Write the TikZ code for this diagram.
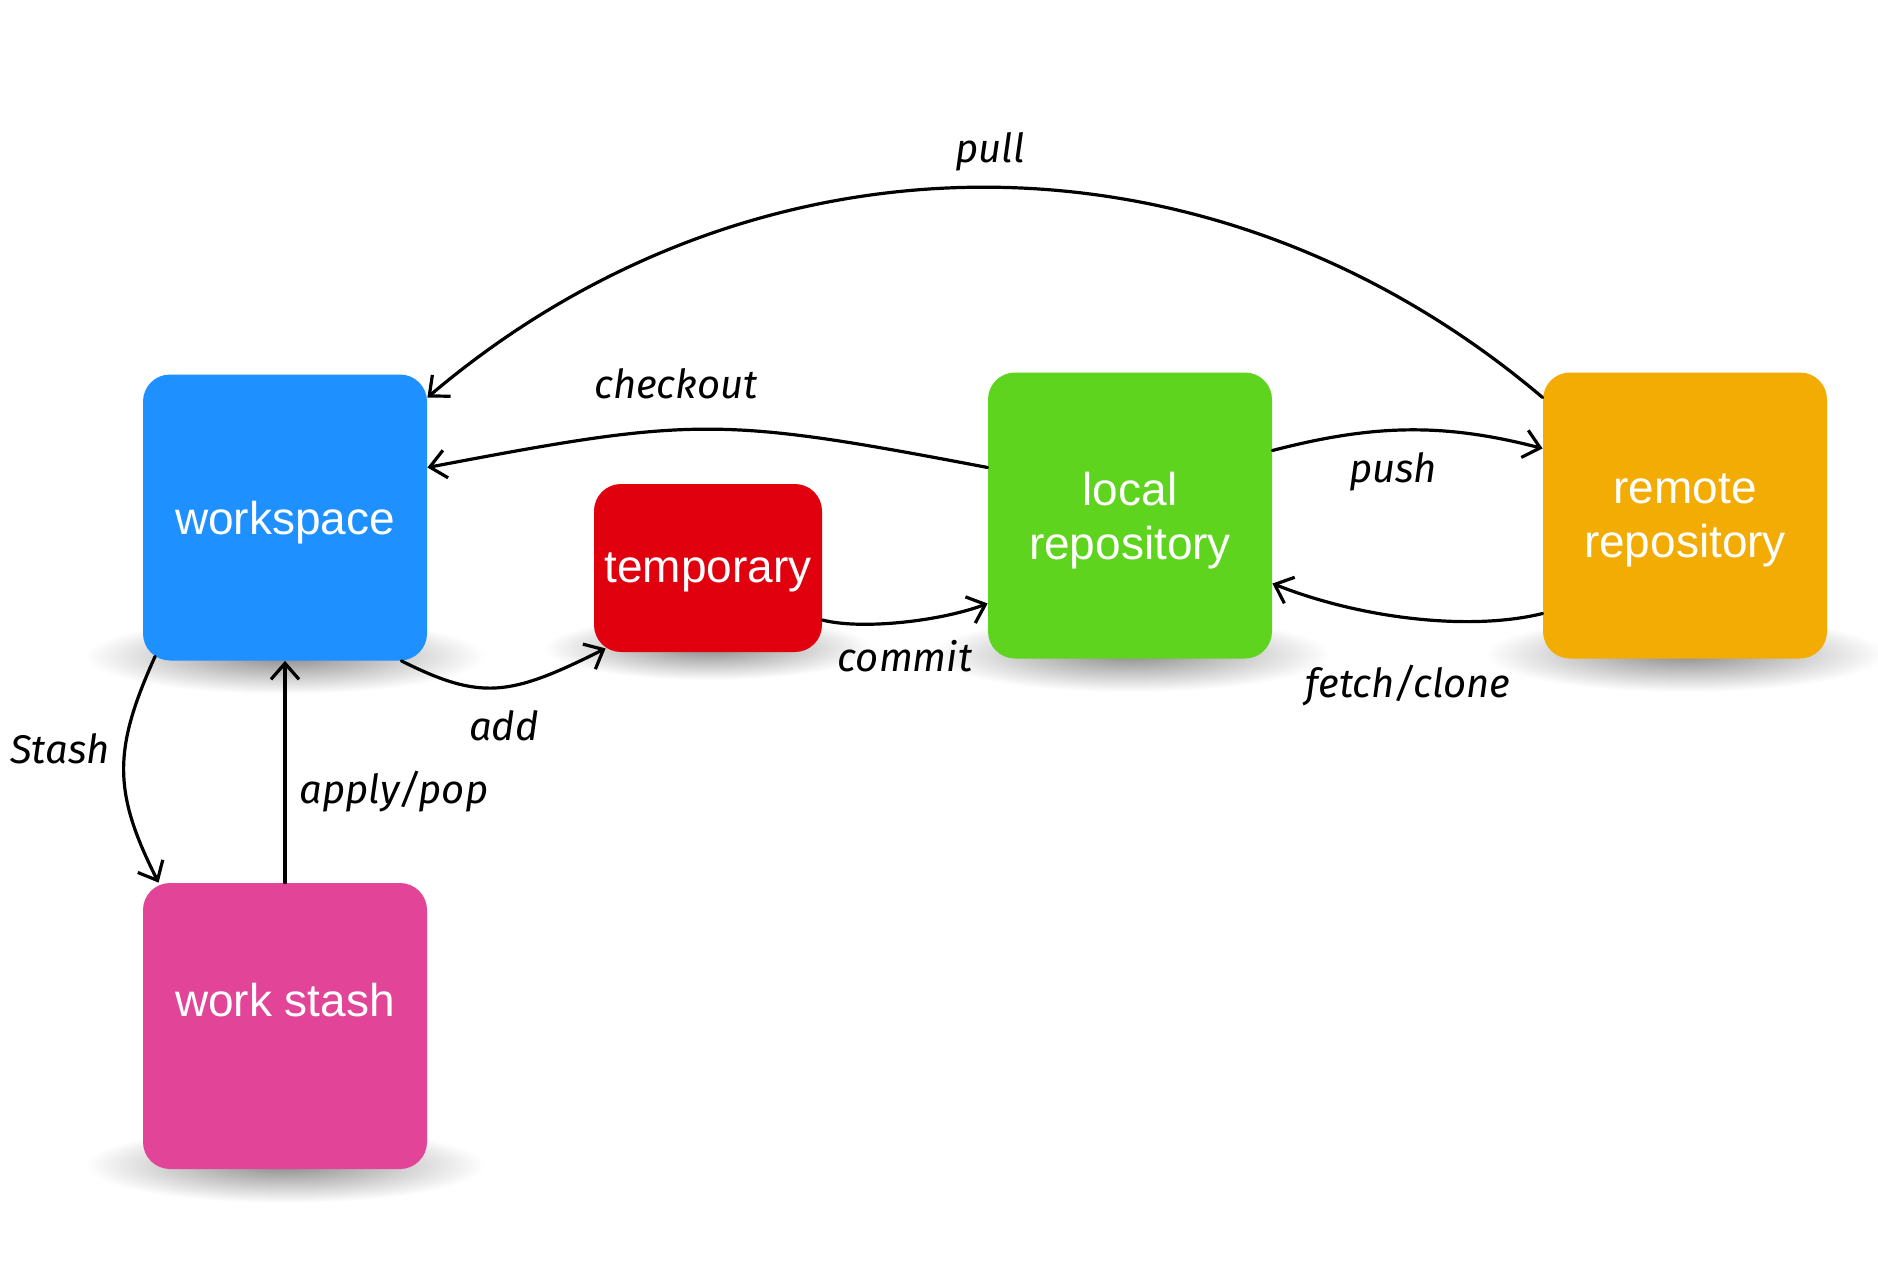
\documentclass[tikz,border=0pt]{standalone}
\usepackage{fontspec}
\setmainfont{Liberation Sans}
\newfontfamily\handfont{Fira Sans}
\usetikzlibrary{arrows.meta,calc}
\definecolor{wsblue}{RGB}{30,144,255}
\definecolor{tmpred}{RGB}{224,0,14}
\definecolor{locgreen}{RGB}{94,212,30}
\definecolor{remorange}{RGB}{242,172,4}
\definecolor{stashpink}{RGB}{226,68,152}
\begin{document}
\begin{tikzpicture}[x=0.5pt,y=-0.5pt,
  box/.style={rectangle, rounded corners=13.5pt, inner sep=0pt, text=white,
    font=\fontsize{23}{27}\selectfont, align=center, text depth=0pt},
  bigbox/.style={box, minimum width=142pt, minimum height=143pt},
  conn/.style={draw=black, line width=1.6pt, line cap=round, line join=round,
    -{Straight Barb[length=8pt,width=14pt,line width=1.6pt]}},
  lab/.style={inner sep=0pt, font=\handfont\itshape\fontsize{20}{24}\selectfont},
  shadowshade/.style={inner color=black!45, outer color=white}]
\useasboundingbox (0,0) rectangle (1878,1268);
\fill[white] (0,0) rectangle (1878,1268);

% shadows
\shade[shadowshade] (285,656) ellipse [x radius=100pt, y radius=19pt];
\shade[shadowshade] (708,648) ellipse [x radius=82pt, y radius=16pt];
\shade[shadowshade] (1130,654) ellipse [x radius=100pt, y radius=19pt];
\shade[shadowshade] (1685,654) ellipse [x radius=100pt, y radius=19pt];
\shade[shadowshade] (285,1165) ellipse [x radius=100pt, y radius=19pt];

% boxes
\node[bigbox, fill=wsblue] (ws) at (285,517.5) {workspace};
\node[box, fill=tmpred, minimum width=114pt, minimum height=84pt] (tmp) at (708,568) {temporary};
\node[bigbox, fill=locgreen] (loc) at (1130,515.5) {local\\repository};
\node[bigbox, fill=remorange] (rem) at (1685,515.5) {remote\\repository};
\node[bigbox, fill=stashpink] (stash) at (285,1026) {};
\node[inner sep=0pt, text=white, font=\fontsize{23}{27}\selectfont] (stashtext) at (285,1000) {work stash};

% connectors
\draw[conn] ($(rem.west)+(0,-118)$) .. controls +(-330,-280) and +(330,-280) .. ($(ws.east)+(0,-120)$);
\draw[conn] ($(loc.west)+(0,-48)$) .. controls +(-268,-51) and +(268,-51) .. ($(ws.east)+(0,-50)$);
\draw[conn] ($(loc.east)+(0,-65)$) .. controls +(100,-26) and +(-100,-26) .. ($(rem.west)+(0,-67)$);
\draw[conn] ($(rem.west)+(0,98)$) .. controls +(-73,18) and +(88,35) .. ($(loc.east)+(0,68)$);
\draw[conn] ($(tmp.east)+(0,52)$) .. controls +(38,10) and +(-48,18) .. ($(loc.west)+(0,88)$);
\draw[conn] ($(ws.south east)+(-26,0)$) .. controls +(80,40) and +(-96,48) .. ($(tmp.south west)+(12,-4)$);
\draw[conn] ($(ws.south west)+(12.5,-4.5)$) .. controls +(-42,93) and +(-46,-91) .. ($(stash.north west)+(16,0)$);
\draw[conn] (stash.north) -- (ws.south);

% labels
\node[lab] (lpull) at (990,152) {pull};
\node[lab] (lcheckout) at (676,384) {checkout};
\node[lab] (lpush) at (1393,472) {push};
\node[lab] (lfetch) at (1408,686) {fetch/clone};
\node[lab] (lcommit) at (905,656) {commit};
\node[lab] (ladd) at (504,726) {add};
\node[lab] (lstash) at (60,749) {Stash};
\node[lab] (lapply) at (394,792) {apply/pop};
\end{tikzpicture}
\end{document}
